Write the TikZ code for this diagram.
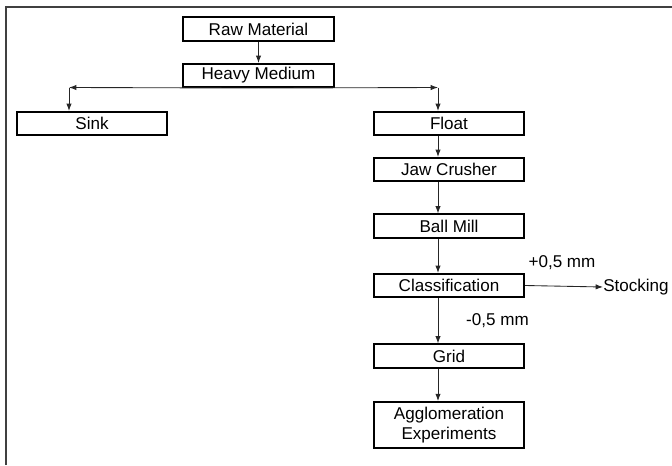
\documentclass[tikz,border=0pt]{standalone}
\usepackage{fontspec}
\setmainfont{Liberation Sans}
\usetikzlibrary{arrows.meta}

\begin{document}
\begin{tikzpicture}[x=0.75pt,y=-0.75pt,font=\fontsize{12.8}{14.5}\selectfont]
  \tikzstyle{stage}=[draw=black,line width=1.3pt,inner sep=0pt,minimum width=113pt,minimum height=17.5pt,text centered]
  \tikzstyle{flow}=[draw=black!85,line width=0.65pt,-{Latex[length=5.5pt,width=4pt]}]
  \tikzstyle{sizes}=[inner sep=0pt]
  \useasboundingbox (0,0) rectangle (672,465);
  \draw[black!75,line width=1.5pt] (6,465) -- (6,7) -- (672,7);
  \node (rawmaterial) at (258.5,29) [stage] {Raw Material};
  \node (heavymedium) at (258.5,75.5) [stage] {Heavy Medium};
  \node (sink) at (92,123.5) [stage] {Sink};
  \node (float) at (449,123.5) [stage] {Float};
  \node (jawcrusher) at (449,169.5) [stage] {Jaw Crusher};
  \node (ballmill) at (449,226) [stage] {Ball Mill};
  \node (classification) at (449,285.5) [stage] {Classification};
  \node (grid) at (449,356) [stage] {Grid};
  \node (agglomeration) at (449,425) [stage,minimum height=34.5pt,align=center] {Agglomeration\\Experiments};
  \node (stocking) at (603,287) [sizes,anchor=west] {Stocking};
  \node (coarse) at (562,263) [sizes] {+0,5 mm};
  \node (fine) at (497.5,321) [sizes] {-0,5 mm};
  \coordinate (sinkturn) at (69,87.5);
  \coordinate (floatturn) at (438,87.5);
  \draw[flow] (rawmaterial) -- (heavymedium);
  \draw[flow] (heavymedium.south) -- (sinkturn);
  \draw[flow] (heavymedium.south) -- (floatturn);
  \draw[flow] (sinkturn) -- (sinkturn |- sink.north);
  \draw[flow] (floatturn) -- (floatturn |- float.north);
  \draw[flow] (floatturn |- float.south) -- (floatturn |- jawcrusher.north);
  \draw[flow] (floatturn |- jawcrusher.south) -- (floatturn |- ballmill.north);
  \draw[flow] (floatturn |- ballmill.south) -- (floatturn |- classification.north);
  \draw[flow] (floatturn |- classification.south) -- (floatturn |- grid.north);
  \draw[flow] (floatturn |- grid.south) -- (floatturn |- agglomeration.north);
  \draw[flow] (classification.east) -- (stocking.west);
\end{tikzpicture}
\end{document}
